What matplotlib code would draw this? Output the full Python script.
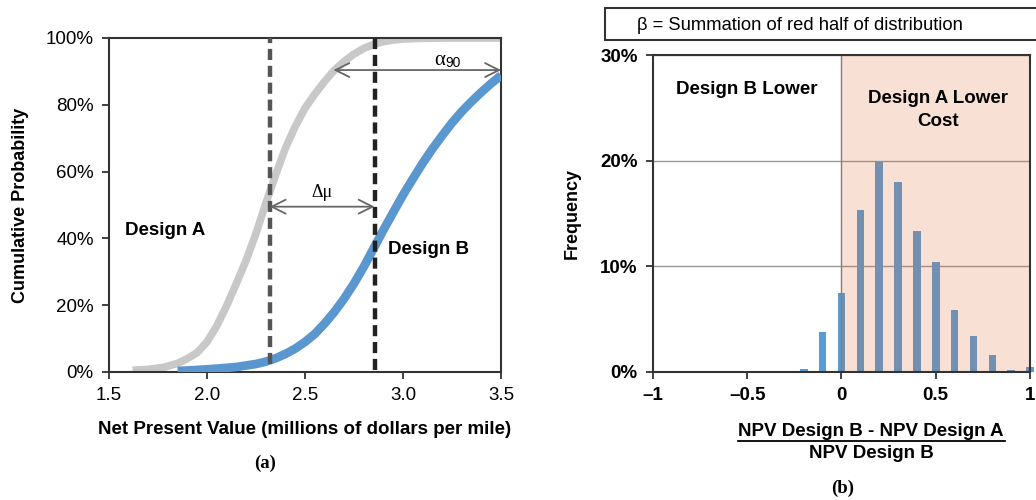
import matplotlib
matplotlib.use("Agg")
import matplotlib.pyplot as plt
from matplotlib.patches import Rectangle
from matplotlib.ticker import FuncFormatter

plt.rcParams['font.family'] = ['Liberation Sans', 'DejaVu Sans']

# ---------------- data ----------------
# Panel (a): cumulative probability curves (x in $M/mile, y in %)
designA_x = [1.62, 1.70, 1.78, 1.85, 1.90, 1.95, 2.00, 2.05, 2.10, 2.15, 2.20, 2.25, 2.30, 2.35, 2.40, 2.45, 2.50, 2.55, 2.60, 2.65, 2.70, 2.75, 2.80, 2.85, 2.90, 2.95, 3.00, 3.10, 3.24, 3.50]
designA_y = [0.5, 0.8, 1.4, 2.6, 4.0, 5.8, 9.0, 13.8, 19.8, 26.5, 33.5, 41.5, 50.5, 59.0, 67.0, 73.5, 79.0, 83.2, 87.0, 90.4, 93.0, 95.2, 96.9, 98.1, 98.9, 99.4, 99.7, 99.9, 100.0, 100.0]
designB_x = [1.85, 1.95, 2.05, 2.15, 2.25, 2.30, 2.35, 2.40, 2.45, 2.50, 2.55, 2.60, 2.65, 2.70, 2.75, 2.80, 2.85, 2.90, 2.95, 3.00, 3.05, 3.10, 3.15, 3.20, 3.25, 3.30, 3.35, 3.40, 3.45, 3.50]
designB_y = [0.3, 0.6, 1.0, 1.5, 2.4, 3.1, 4.1, 5.4, 7.0, 9.0, 11.4, 14.5, 18.0, 22.0, 26.5, 31.5, 37.0, 42.5, 47.8, 53.0, 57.8, 62.5, 66.8, 70.8, 74.6, 78.0, 81.0, 83.8, 86.4, 88.8]
mean_A = 2.32
mean_B = 2.855
alpha90_start = 2.645
alpha90_end = 3.50

# Panel (b): histogram of relative NPV difference
bin_centers = [-0.2, -0.1, 0.0, 0.1, 0.2, 0.3, 0.4, 0.5, 0.6, 0.7, 0.8, 0.9, 1.0]
frequency = [0.3, 3.75, 7.5, 15.3, 19.9, 18.0, 13.35, 10.4, 5.9, 3.4, 1.6, 0.15, 0.45]

# ---------------- figure ----------------
fig = plt.figure(figsize=(10.36, 5.0), dpi=100)

frame_col = '#333333'

# ---- Panel (a) ----
ax1 = fig.add_axes([0.1052, 0.256, 0.3784, 0.668])
ax1.plot(designA_x, designA_y, color='#c8c8c8', lw=5.5, solid_capstyle='butt', solid_joinstyle='round', zorder=2)
ax1.plot(designB_x, designB_y, color='#5b97cf', lw=6.3, solid_capstyle='butt', solid_joinstyle='round', zorder=3)
ax1.plot([mean_A, mean_A], [2.5, 100], color='#555555', lw=3.2, ls=(0, (2.5, 1.3)), zorder=4)
ax1.plot([mean_B, mean_B], [0.5, 100], color='#222222', lw=3.2, ls=(0, (2.5, 1.3)), zorder=4)

arrow_kw = dict(arrowstyle='<->', color='#666666', lw=1.3, mutation_scale=25, shrinkA=0, shrinkB=0)
ax1.annotate('', xy=(mean_A, 49.5), xytext=(mean_B, 49.5), arrowprops=arrow_kw, zorder=5)
ax1.text(2.585, 53.6, 'Δμ', ha='center', va='center', fontsize=13,
         family=['Liberation Serif', 'DejaVu Serif'])
ax1.annotate('', xy=(alpha90_start, 90.4), xytext=(alpha90_end, 90.4), arrowprops=arrow_kw, zorder=5)
ax1.text(3.215, 93.4, 'α', ha='right', va='center', fontsize=15,
         family=['Liberation Serif', 'DejaVu Serif'])
ax1.text(3.215, 92.6, '90', ha='left', va='center', fontsize=10)

ax1.text(1.58, 42.5, 'Design A', fontsize=13.5, fontweight='bold', ha='left', va='center')
ax1.text(2.924, 36.6, 'Design B', fontsize=13.5, fontweight='bold', ha='left', va='center')

ax1.set_xlim(1.5, 3.5)
ax1.set_ylim(0, 100)
ax1.set_xticks([1.5, 2.0, 2.5, 3.0, 3.5])
ax1.set_xticklabels(['1.5', '2.0', '2.5', '3.0', '3.5'])
ax1.set_yticks([0, 20, 40, 60, 80, 100])
ax1.yaxis.set_major_formatter(FuncFormatter(lambda v, p: f'{int(v)}%'))
ax1.tick_params(labelsize=13.5, direction='out', length=5, width=1.3, color=frame_col, pad=6)
for s in ax1.spines.values():
    s.set_color(frame_col)
    s.set_linewidth(1.5)
ax1.set_ylabel('Cumulative Probability', fontsize=13, fontweight='bold', labelpad=12)
ax1.set_xlabel('Net Present Value (millions of dollars per mile)', fontsize=13.5, fontweight='bold', labelpad=12)
fig.text(265 / 1036, 1 - 463 / 500, '(a)', ha='center', va='center', fontsize=13.5, fontweight='bold',
         family=['Liberation Serif', 'DejaVu Serif'])

# ---- Panel (b) ----
ax2 = fig.add_axes([0.6303, 0.256, 0.3639, 0.634])
ax2.bar(bin_centers, frequency, width=0.04, color='#5b9bd5', zorder=2, clip_on=False)
ax2.axvspan(0, 1.0, facecolor='#da611c', alpha=0.19, zorder=3, lw=0)
ax2.axvline(0, color='#8a7a72', lw=1.0, zorder=3)
ax2.set_xlim(-1, 1)
ax2.set_ylim(0, 30)
ax2.set_yticks([0, 10, 20, 30])
ax2.yaxis.set_major_formatter(FuncFormatter(lambda v, p: f'{int(v)}%'))
ax2.set_xticks([-1, -0.5, 0, 0.5, 1])
ax2.set_xticklabels(['\u20131', '\u20130.5', '0', '0.5', '1'])
ax2.grid(axis='y', color='#999999', lw=1.0, zorder=1)
ax2.set_axisbelow(True)
ax2.tick_params(labelsize=13.5, direction='out', length=5, width=1.3, color=frame_col, pad=6)
for lab in ax2.get_xticklabels() + ax2.get_yticklabels():
    lab.set_fontweight('bold')
for s in ax2.spines.values():
    s.set_color(frame_col)
    s.set_linewidth(1.5)
    s.set_zorder(5)
ax2.set_ylabel('Frequency', fontsize=13, fontweight='bold', labelpad=14)

ax2.text(-0.5, 26.7, 'Design B Lower', ha='center', va='center', fontsize=13.5, fontweight='bold', zorder=6)
ax2.text(0.51, 24.8, 'Design A Lower\nCost', ha='center', va='center', fontsize=13.5, fontweight='bold',
         linespacing=1.4, zorder=6)

fig.text(871 / 1036, 1 - 432 / 500, 'NPV Design B - NPV Design A', ha='center', va='center',
         fontsize=13.5, fontweight='bold')
fig.lines.append(plt.Line2D([738 / 1036, 1005 / 1036], [1 - 441 / 500, 1 - 441 / 500],
                            transform=fig.transFigure, color='black', lw=1.3))
fig.text(871 / 1036, 1 - 453 / 500, 'NPV Design B', ha='center', va='center',
         fontsize=13.5, fontweight='bold')
fig.text(843 / 1036, 1 - 488 / 500, '(b)', ha='center', va='center', fontsize=13.5, fontweight='bold',
         family=['Liberation Serif', 'DejaVu Serif'])

# Title box
fig.patches.append(Rectangle((605 / 1036, 1 - 40 / 500), 0.45, 32 / 500, transform=fig.transFigure,
                             facecolor='white', edgecolor=frame_col, lw=1.5, clip_on=False))
fig.text(637 / 1036, 1 - 25 / 500, 'β = Summation of red half of distribution', ha='left', va='center',
         fontsize=13.2)

fig.savefig('out.png', dpi=100)
